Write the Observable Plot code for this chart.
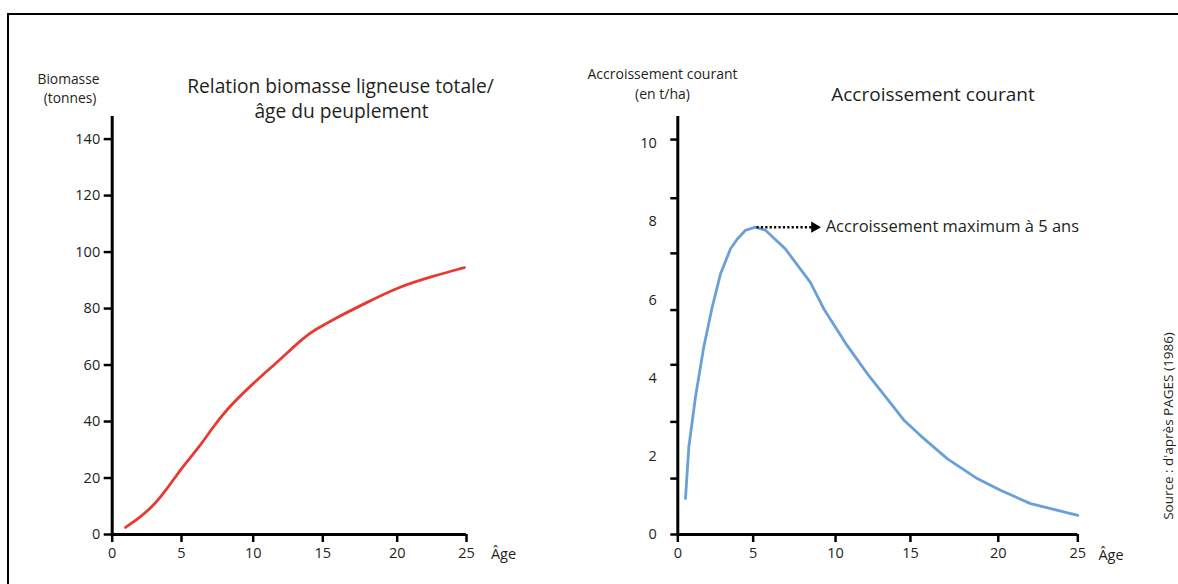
<!DOCTYPE html>
<html>
<head>
<meta charset="utf-8">
<script src="https://cdn.jsdelivr.net/npm/d3@7"></script>
<script src="https://cdn.jsdelivr.net/npm/@observablehq/plot@0.6"></script>
<style>
  body { margin: 0; background: #fff; }
  #wrap { position: relative; width: 1178px; height: 584px; overflow: hidden; font-family: "Open Sans", sans-serif; color: #231f20; }
  #frame { position: absolute; left: 7px; top: 13px; width: 1300px; height: 700px; border-left: 2px solid #000; border-top: 2px solid #000; }
  .lbl { position: absolute; white-space: nowrap; transform: translate(-50%, -50%); line-height: 1; }
  .plot { position: absolute; left: 0; top: 0; }
</style>
</head>
<body>
<div id="wrap">
  <div id="frame"></div>
</div>
<script>
// ---- Data ----
const biomassAge   = [0.96, 2.04, 3.0, 3.97, 5.05, 6.32, 7.02, 8.07, 9.81, 11.72, 13.64, 14.35, 15.74, 17.98, 20.0, 22.64, 24.85];
const biomassValue = [2.5, 6.2, 10.3, 16.2, 23.9, 31.5, 36.8, 43.9, 52.7, 61.0, 69.8, 72.2, 76.3, 82.2, 87.5, 91.6, 94.5];

const growthAge   = [0.51, 0.73, 1.17, 1.72, 2.28, 2.83, 3.49, 3.94, 4.49, 5.14, 5.75, 6.96, 8.48, 9.29, 10.78, 12.22, 13.45, 14.55, 15.57, 17.09, 18.8, 20.14, 22.03, 25.0];
const growthValue = [0.92, 2.23, 3.51, 4.79, 5.81, 6.66, 7.30, 7.55, 7.78, 7.86, 7.78, 7.30, 6.44, 5.77, 4.83, 4.06, 3.47, 2.93, 2.53, 1.94, 1.43, 1.13, 0.79, 0.49];

const ageTicks          = [0, 5, 10, 15, 20, 25];
const biomassTicks      = [0, 20, 40, 60, 80, 100, 120, 140];
const growthTickLabels  = [0, 2, 4, 6, 8, 10];
const growthTickMarks   = [0, 1.43, 2.88, 4.34, 5.74, 7.19, 8.6, 10.1];

// hand-drawn (uneven) spacing of the age ticks in the original, as warped ages
const leftAgeWarp  = [0, 4.89, 9.95, 14.86, 20.11, 25];
const rightAgeWarp = [0, 4.71, 9.86, 14.54, 20.03, 25];

const peakAge = 5.2, peakValue = 7.86, arrowEndAge = 8.72, noteAge = 9.4;
const noteText = "Accroissement maximum à 5 ans";

const texts = {
  leftYLabel: ["Biomasse", "(tonnes)"],
  leftTitle: ["Relation biomasse ligneuse totale/", "âge du peuplement"],
  rightYLabel: ["Accroissement courant", "(en t/ha)"],
  rightTitle: "Accroissement courant",
  xLabel: "Âge",
  source: "Source : d'après PAGES (1986)"
};

const biomass = biomassAge.map((a, i) => ({age: a, value: biomassValue[i]}));
const growth = growthAge.map((a, i) => ({age: a, value: growthValue[i]}));
const leftWarp = d3.scaleLinear().domain(ageTicks).range(leftAgeWarp);
const rightWarp = d3.scaleLinear().domain(ageTicks).range(rightAgeWarp);

const wrap = document.getElementById("wrap");
const FONT = "'Open Sans', sans-serif";
const INK = "#231f20";

// ---- Left chart ----
const left = Plot.plot({
  width: 1178, height: 584,
  marginTop: 116, marginBottom: 50, marginLeft: 111.7, marginRight: 712,
  x: {domain: [0, 25], transform: leftWarp, axis: null},
  y: {domain: [0, 148], axis: null},
  style: {fontFamily: FONT, color: INK, background: "transparent", overflow: "visible"},
  marks: [
    Plot.axisY(biomassTicks, {tickSize: 8, tickPadding: 4, strokeWidth: 2.5, stroke: "#000", fontSize: 14.5, fill: INK, label: null}),
    Plot.axisX(ageTicks, {tickSize: 8, tickPadding: 5, strokeWidth: 2.5, stroke: "#000", fontSize: 14.5, fill: INK, label: null}),
    Plot.ruleX([0], {y1: 0, y2: 148, stroke: "#000", strokeWidth: 3}),
    Plot.ruleY([0], {x1: 0, x2: 25, stroke: "#000", strokeWidth: 3}),
    Plot.line(biomass, {x: "age", y: "value", stroke: "#e53b33", strokeWidth: 2.8, curve: "basis"})
  ]
});
left.classList.add("plot");
wrap.appendChild(left);

// ---- Right chart ----
const right = Plot.plot({
  width: 1178, height: 584,
  marginTop: 116, marginBottom: 50, marginLeft: 677.3, marginRight: 100.7,
  x: {domain: [0, 25], transform: rightWarp, axis: null},
  y: {domain: [0, 10.69], axis: null},
  style: {fontFamily: FONT, color: INK, background: "transparent", overflow: "visible"},
  marks: [
    Plot.axisY(growthTickMarks, {tickSize: 7, strokeWidth: 2.5, stroke: "#000", tickFormat: () => "", label: null}),
    Plot.axisY(growthTickLabels, {tickSize: 0, tickPadding: 21, fontSize: 14.5, fill: INK, label: null}),
    Plot.axisX(ageTicks, {tickSize: 8, tickPadding: 5, strokeWidth: 2.5, stroke: "#000", fontSize: 14.5, fill: INK, label: null}),
    Plot.ruleX([0], {y1: 0, y2: 10.69, stroke: "#000", strokeWidth: 3}),
    Plot.ruleY([0], {x1: 0, x2: 25, stroke: "#000", strokeWidth: 3}),
    Plot.line(growth, {x: "age", y: "value", stroke: "#6a9fd8", strokeWidth: 2.8}),
    Plot.link([{x1: peakAge, x2: arrowEndAge, y: peakValue}], {x1: "x1", x2: "x2", y1: "y", y2: "y", stroke: "#000", strokeWidth: 2.5, strokeDasharray: "2.2,2.2"}),
    Plot.dot([{x: arrowEndAge, y: peakValue}], {x: "x", y: "y", symbol: "triangle", r: 4.2, rotate: 90, fill: "#000", stroke: "none"}),
    Plot.text([{x: noteAge, y: peakValue, t: noteText}], {x: "x", y: "y", text: "t", textAnchor: "start", fontSize: 16.5, fill: INK})
  ]
});
right.classList.add("plot");
wrap.appendChild(right);

// ---- HTML labels ----
function label(txt, cx, cy, size, extra) {
  const d = document.createElement("div");
  d.className = "lbl";
  d.textContent = txt;
  d.style.left = cx + "px";
  d.style.top = cy + "px";
  d.style.fontSize = size + "px";
  if (extra) Object.assign(d.style, extra);
  wrap.appendChild(d);
  return d;
}
label(texts.leftYLabel[0], 68.5, 78.5, 13.8);
label(texts.leftYLabel[1], 70, 97.5, 13.8);
label(texts.leftTitle[0], 340.5, 86, 19.2);
label(texts.leftTitle[1], 341.5, 111, 19.2);
label(texts.rightYLabel[0], 662.5, 73.5, 14);
label(texts.rightYLabel[1], 662.5, 93.5, 14);
label(texts.rightTitle, 933, 94, 19);
label(texts.xLabel, 503.5, 554, 14.5);
label(texts.xLabel, 1111, 555, 14.5);
label(texts.source, 1169, 425.5, 13.5, {transform: "translate(-50%, -50%) rotate(-90deg)"});
</script>
</body>
</html>
